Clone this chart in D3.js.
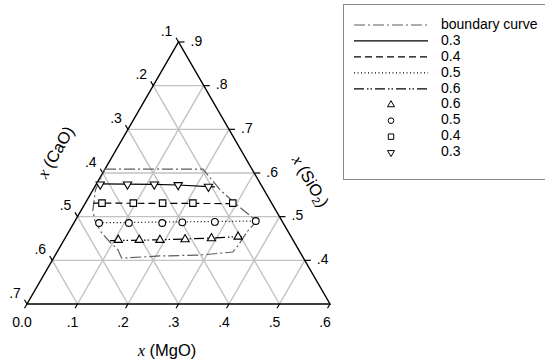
<!DOCTYPE html>
<html>
<head>
<meta charset="utf-8">
<script src="https://cdn.jsdelivr.net/npm/d3@7"></script>
<style>
  body { margin: 0; background: #fff; }
  svg { display: block; }
</style>
</head>
<body>
<div id="chart"></div>
<script>
// compositions as [x(MgO), x(SiO2)]; x(CaO) = 1 - MgO - SiO2
const boundaryCurve = [
    [0.000, 0.609], [0.090, 0.609], [0.194, 0.609], [0.252, 0.561], [0.296, 0.531],
    [0.349, 0.497], [0.360, 0.490], [0.353, 0.465], [0.351, 0.433], [0.348, 0.419],
    [0.286, 0.412], [0.208, 0.410], [0.135, 0.405], [0.118, 0.424], [0.093, 0.442],
    [0.064, 0.465], [0.038, 0.492], [0.023, 0.515], [0.005, 0.561], [0.002, 0.591],
    [0.000, 0.609]
];
const line03 = [[0.004, 0.575], [0.115, 0.574], [0.163, 0.5725], [0.225, 0.5686], [0.238, 0.568]];
const line04 = [[0.016, 0.531], [0.292, 0.530]];
const line05 = [[0.050, 0.486], [0.358, 0.490]];
const line06 = [[0.092, 0.445], [0.190, 0.447], [0.290, 0.451], [0.348, 0.4546]];

const pts06 = [[0.1075, 0.4466], [0.149, 0.4466], [0.190, 0.4466], [0.239, 0.448], [0.290, 0.4505], [0.341, 0.454]];
const pts05 = [[0.050, 0.4855], [0.109, 0.4855], [0.175, 0.4855], [0.214, 0.487], [0.278, 0.488], [0.358, 0.490]];
const pts04 = [[0.033, 0.531], [0.095, 0.531], [0.153, 0.531], [0.213, 0.531], [0.292, 0.531]];
const pts03 = [[0.008, 0.574], [0.062, 0.574], [0.115, 0.574], [0.163, 0.5725], [0.225, 0.5686]];

const mgoTicks = [0, 0.1, 0.2, 0.3, 0.4, 0.5, 0.6];
const mgoLabels = ["0.0", ".1", ".2", ".3", ".4", ".5", ".6"];
const caoTicks = [0.1, 0.2, 0.3, 0.4, 0.5, 0.6, 0.7];
const caoLabels = [".1", ".2", ".3", ".4", ".5", ".6", ".7"];
const sio2Ticks = [0.4, 0.5, 0.6, 0.7, 0.8, 0.9];
const sio2Labels = [".4", ".5", ".6", ".7", ".8", ".9"];

const legendNames = ["boundary curve", "0.3", "0.4", "0.5", "0.6", "0.6", "0.5", "0.4", "0.3"];

const W = 545, H = 362;
const sans = "'Liberation Sans', Arial, sans-serif";
const serif = "'Liberation Serif', 'Times New Roman', serif";

const svg = d3.select("#chart").append("svg")
    .attr("width", W)
    .attr("height", H)
    .style("font-family", sans);

// horizontal position uses MgO + half the SiO2 above the base
const hScale = d3.scaleLinear().domain([0, 0.6]).range([27, 330]);
const sScale = d3.scaleLinear().domain([0.3, 0.9]).range([304, 42]);
const px = (m, s) => [hScale(m + (s - 0.3) / 2), sScale(s)];

const path = d3.line().x(d => px(d[0], d[1])[0]).y(d => px(d[0], d[1])[1]);

// grid lines
const grid = [];
[0.1, 0.2, 0.3, 0.4, 0.5].forEach(v => grid.push([[v, 0.3], [v, 0.9 - v]]));        // const MgO
[0.4, 0.5, 0.6, 0.7, 0.8].forEach(s => grid.push([[0, s], [0.9 - s, s]]));          // const SiO2
[0.2, 0.3, 0.4, 0.5, 0.6].forEach(c => grid.push([[0, 1 - c], [0.7 - c, 0.3]]));    // const CaO

svg.append("g").selectAll("path")
    .data(grid)
    .enter().append("path")
    .attr("d", path)
    .attr("stroke", "#c2c2c2")
    .attr("stroke-width", 1.4)
    .attr("fill", "none");

// triangle frame
svg.append("path")
    .attr("d", path([[0, 0.3], [0.6, 0.3], [0, 0.9], [0, 0.3]]) + "Z")
    .attr("stroke", "#000")
    .attr("stroke-width", 1.4)
    .attr("fill", "none");

// ticks and labels
const axes = svg.append("g").attr("font-size", 14);

mgoTicks.forEach((v, i) => {
    const [x, y] = px(v, 0.3);
    axes.append("line").attr("x1", x).attr("y1", y).attr("x2", x - 2.5).attr("y2", y + 4.3)
        .attr("stroke", "#000").attr("stroke-width", 1.2);
    axes.append("text").attr("x", x - 5).attr("y", y + 19)
        .attr("text-anchor", "middle").attr("dominant-baseline", "middle")
        .text(mgoLabels[i]);
});

caoTicks.forEach((c, i) => {
    const [x, y] = px(0, 1 - c);
    axes.append("line").attr("x1", x).attr("y1", y).attr("x2", x - 2.5).attr("y2", y - 4.3)
        .attr("stroke", "#000").attr("stroke-width", 1.2);
    axes.append("text").attr("x", x - 12).attr("y", y - 10)
        .attr("text-anchor", "middle").attr("dominant-baseline", "middle")
        .text(caoLabels[i]);
});

sio2Ticks.forEach((s, i) => {
    const [x, y] = px(0.9 - s, s);
    axes.append("line").attr("x1", x).attr("y1", y).attr("x2", x + 6).attr("y2", y)
        .attr("stroke", "#000").attr("stroke-width", 1.2);
    axes.append("text").attr("x", x + 12).attr("y", y)
        .attr("text-anchor", "start").attr("dominant-baseline", "middle")
        .text(sio2Labels[i]);
});

// axis titles
function title(x, y, rot, name, sub) {
    const t = svg.append("text")
        .attr("transform", `translate(${x},${y}) rotate(${rot})`)
        .attr("text-anchor", "middle")
        .attr("dominant-baseline", "middle")
        .attr("font-size", 16.5);
    t.append("tspan").attr("font-family", serif).attr("font-style", "italic").text("x");
    t.append("tspan").text(" (" + name);
    if (sub) t.append("tspan").attr("font-size", 11).attr("dy", 4).text(sub);
    t.append("tspan").attr("dy", sub ? -4 : 0).text(")");
}
title(57, 153, -60, "CaO");
title(309, 182, 60, "SiO", "2");
title(167, 352, 0, "MgO");

// series lines
const lineStyles = [
    { data: boundaryCurve, color: "#5e5e5e", dash: "11,3,2,3" },
    { data: line03, color: "#000", dash: null },
    { data: line04, color: "#000", dash: "7,4" },
    { data: line05, color: "#000", dash: "1,2.5" },
    { data: line06, color: "#000", dash: "10,3,1.5,2,1.5,3" }
];

svg.append("g").selectAll("path")
    .data(lineStyles)
    .enter().append("path")
    .attr("d", d => path(d.data))
    .attr("stroke", d => d.color)
    .attr("stroke-width", 1.2)
    .attr("stroke-dasharray", d => d.dash)
    .attr("fill", "none");

// markers
const markerSets = [
    { data: pts06, type: d3.symbolTriangle, size: 30, rot: 0 },
    { data: pts05, type: d3.symbolCircle, size: 36, rot: 0 },
    { data: pts04, type: d3.symbolSquare, size: 42, rot: 0 },
    { data: pts03, type: d3.symbolTriangle, size: 30, rot: 180 }
];

markerSets.forEach(ms => {
    svg.append("g").selectAll("path")
        .data(ms.data)
        .enter().append("path")
        .attr("transform", d => `translate(${px(d[0], d[1])}) rotate(${ms.rot})`)
        .attr("d", d3.symbol().type(ms.type).size(ms.size))
        .attr("fill", "#fff")
        .attr("stroke", "#000")
        .attr("stroke-width", 1.1);
});

// legend
const legend = svg.append("g");
legend.append("rect")
    .attr("x", 343.5).attr("y", 4.5)
    .attr("width", 210).attr("height", 175)
    .attr("fill", "#fff")
    .attr("stroke", "#8a8a8a")
    .attr("stroke-width", 1);

const rowY = i => 25 + i * 15.95;
legendNames.forEach((name, i) => {
    const y = rowY(i);
    if (i < 5) {
        const st = lineStyles[i];
        legend.append("line")
            .attr("x1", 354).attr("x2", 428).attr("y1", y).attr("y2", y)
            .attr("stroke", st.color)
            .attr("stroke-width", 1.2)
            .attr("stroke-dasharray", st.dash);
    } else {
        const ms = markerSets[i - 5];
        legend.append("path")
            .attr("transform", `translate(391,${y}) rotate(${ms.rot})`)
            .attr("d", d3.symbol().type(ms.type).size(ms.size * 0.7))
            .attr("fill", "#fff")
            .attr("stroke", "#000")
            .attr("stroke-width", 1);
    }
    legend.append("text")
        .attr("x", 441).attr("y", y)
        .attr("dominant-baseline", "middle")
        .attr("font-size", 14)
        .text(name);
});
</script>
</body>
</html>
